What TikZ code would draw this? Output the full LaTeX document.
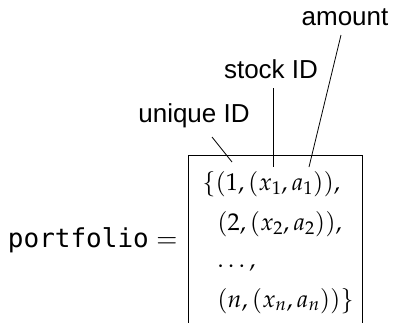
\documentclass[tikz,border=0pt]{standalone}
\usepackage[no-math]{fontspec}
\usepackage{mathpazo}
\setmonofont{DejaVu Sans Mono}
\newfontfamily\labelfont{Liberation Sans}
\usetikzlibrary{positioning}

\tikzset{
  tag/.style={font=\labelfont\fontsize{26}{30}\selectfont, inner sep=0pt, anchor=base},
  row/.style={font=\fontsize{24.3}{29}\selectfont, inner sep=0pt, anchor=base west},
  pointer/.style={line width=0.8pt},
}

\begin{document}
\begin{tikzpicture}[x=1pt,y=-1pt]
			%%%%% START %%%%%
			\useasboundingbox (0,0) rectangle (394,322);
			\clip (0,0) rectangle (394,322);
			
			% the set, open at the bottom of the page
			\node[draw, line width=0.9pt, anchor=north west, minimum width=174pt, minimum height=200pt, inner sep=0pt] (set) at (188,155) {};
			\node[row] (row1) at (202,190) {$\{(1,(x_1,a_1)),$};
			\node[row] (row2) at (217,230) {$(2,(x_2,a_2)),$};
			\node[row] (row3) at (217,267) {$\ldots,$};
			\node[row] (row4) at (217,307) {$(n,(x_n,a_n))\}$};
			
			\node[anchor=base east, inner sep=0pt, font=\fontsize{26}{30}\selectfont] (lhs) at (178,247) {$\texttt{portfolio}=$};
			
			% labels
			\node[tag] (amount) at (345,25) {amount};
			\node[tag] (stock) at (271,78) {stock ID};
			\node[tag] (unique) at (194,122) {unique ID};
			
			\coordinate (amount-from) at (341,35);
			\coordinate (amount-to) at (309,167);
			\coordinate (stock-from) at (273,88);
			\coordinate (stock-to) at (273,167);
			\coordinate (unique-from) at (212,137);
			\coordinate (unique-to) at (232,162);
			
			\draw[pointer] (amount-from) -- (amount-to);
			\draw[pointer] (stock-from) -- (stock-to);
			\draw[pointer] (unique-from) -- (unique-to);
			%%%%% END %%%%%
\end{tikzpicture}
\end{document}
